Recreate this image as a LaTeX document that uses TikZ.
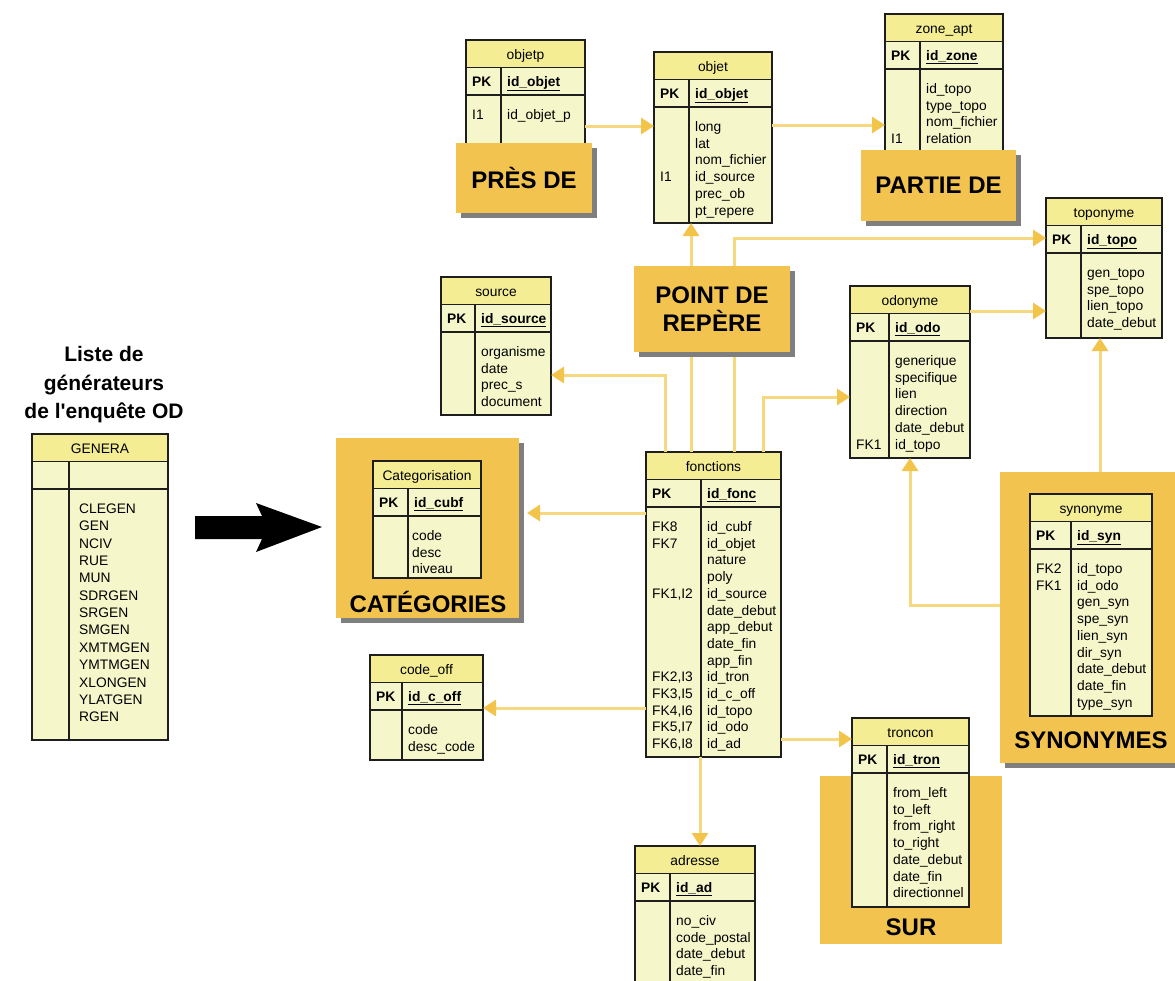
\documentclass[tikz,border=0pt]{standalone}
\usepackage{fontspec}
\setmainfont{Liberation Sans}
\usetikzlibrary{arrows.meta,shadows}

\definecolor{hdr}{HTML}{F4ED94}
\definecolor{bodyc}{HTML}{F5F7CA}
\definecolor{grpfill}{HTML}{F2C44F}
\definecolor{shade}{HTML}{7F7F7F}
\definecolor{linkc}{HTML}{F5D880}
\definecolor{linktip}{HTML}{F2C44A}
\definecolor{ink}{HTML}{1E1E1E}

% geometry helpers for the entity tables
\def\parsex#1,#2,#3\relax{\def\xa{#1}\def\xb{#2}\def\xd{#3}}
\def\parsey#1,#2\relax{\def\ya{#1}\def\yb{#2}}
\newcommand\rowstep{16.7}
\newcommand\fieldpad{6}

% \ertable{name}{left,right,divider}{top,bottom}{title}{key}{left column}{fields}
\newcommand\ertable[7]{%
  \parsex#2\relax\parsey#3\relax
  \pgfmathsetmacro\tw{\xb-\xa}\pgfmathsetmacro\th{\yb-\ya}%
  \node[tblbox, minimum width=\tw pt, minimum height=\th pt, anchor=north west] (#1) at (\xa,\ya) {};
  \fill[hdr] (\xa,\ya) rectangle (\xb,{\ya+27.5});
  \draw[tblline] (\xa,{\ya+27.5}) -- (\xb,{\ya+27.5})
                 (\xa,{\ya+55}) -- (\xb,{\ya+55})
                 (\xd,{\ya+27.5}) -- (\xd,\yb);
  \draw[tblline] (\xa,\ya) rectangle (\xb,\yb);
  \node[celltext, anchor=base] at ({(\xa+\xb)/2},{\ya+19}) {#4};
  \if\relax\detokenize{#5}\relax\else
    \node[celltext, anchor=base west, font=\fontsize{13.8}{16}\selectfont\bfseries] at ({\xa+6},{\ya+46}) {PK};
    \node[celltext, anchor=base west, font=\fontsize{13.8}{16}\selectfont\bfseries] at ({\xd+6},{\ya+46}) {\underline{#5}};
  \fi
  \foreach \t [count=\i from 0] in {#6}
    \node[celltext, anchor=base west] at ({\xa+6},{\ya+79.5+\i*\rowstep}) {\t};
  \foreach \t [count=\i from 0] in {#7}
    \node[celltext, anchor=base west] at ({\xd+\fieldpad},{\ya+79.5+\i*\rowstep}) {\t};
}

\begin{document}
\begin{tikzpicture}[x=1pt,y=-1pt,
  tblbox/.style={fill=bodyc, draw=none, inner sep=0pt, outer sep=0pt},
  tblline/.style={draw=ink, line width=1.3pt},
  celltext/.style={inner sep=0pt, text=black, font=\fontsize{13.8}{16}\selectfont},
  grp/.style={fill=grpfill, draw=none, inner sep=0pt, outer sep=0pt,
    drop shadow={shadow xshift=5pt, shadow yshift=-5pt, fill=shade, opacity=1}},
  grpplain/.style={fill=grpfill, draw=none, inner sep=0pt, outer sep=0pt},
  grptext/.style={inner sep=0pt, text=black, font=\fontsize{24}{28}\selectfont\bfseries},
  link/.style={draw=linkc, line width=3pt, -{Triangle[length=13pt,width=16pt,color=linktip]}}]

\useasboundingbox (0,0) rectangle (1175,980);
\clip (0,0) rectangle (1175,980);

% title of the survey table (straight apostrophe taken as a glyph)
\node[align=center, inner sep=0pt, font=\fontsize{21}{28.5}\selectfont\bfseries] (heading) at (104,385)
  {Liste de\\générateurs\\de l\XeTeXglyph\XeTeXcharglyph"0027 enquête OD};

% group boxes lying behind their tables
\node[grp, minimum width=183pt, minimum height=180pt, anchor=north west] (catbox) at (336,438) {};
\node[grptext] (cattext) at (428,602) {CATÉGORIES};
\node[grpplain, minimum width=182pt, minimum height=168pt, anchor=north west] (surbox) at (820,776) {};
\node[grptext] (surtext) at (911,927) {SUR};
\node[grp, minimum width=185pt, minimum height=291pt, anchor=north west] (synbox) at (1000,472) {};
\node[grptext] (syntext) at (1091,740) {SYNONYMES};

% entity tables
\ertable{objetp}{466,585,501}{40,165}{objetp}{id\_objet}{I1}{id\_objet\_p}
\ertable{objet}{654,772,689}{52,223}{objet}{id\_objet}{{},{},{},I1,{},{}}{long,lat,nom\_fichier,id\_source,prec\_ob,pt\_repere}
\ertable{zoneapt}{885,1003,920}{14,165}{zone\_apt}{id\_zone}{{},{},{},I1}{id\_topo,type\_topo,nom\_fichier,relation}
\ertable{toponyme}{1046,1162,1081}{198,338}{toponyme}{id\_topo}{}{gen\_topo,spe\_topo,lien\_topo,date\_debut}
\ertable{odonyme}{850,970,889}{286,458}{odonyme}{id\_odo}{{},{},{},{},{},FK1}{generique,specifique,lien,direction,date\_debut,id\_topo}
\ertable{source}{441,551,475}{277,415}{source}{id\_source}{}{organisme,date,prec\_s,document}
\ertable{fonctions}{646,781,701}{452,757}{fonctions}{id\_fonc}{FK8,FK7,{},{},{FK1,I2},{},{},{},{},{FK2,I3},{FK3,I5},{FK4,I6},{FK5,I7},{FK6,I8}}{id\_cubf,id\_objet,nature,poly,id\_source,date\_debut,app\_debut,date\_fin,app\_fin,id\_tron,id\_c\_off,id\_topo,id\_odo,id\_ad}
\renewcommand\fieldpad{4}
\ertable{categ}{373,481,408}{461,578}{Categorisation}{id\_cubf}{}{code,desc,niveau}
\renewcommand\fieldpad{6}
\ertable{codeoff}{370,483,402}{655,760}{code\_off}{id\_c\_off}{}{code,desc\_code}
\ertable{troncon}{852,969,887}{718,907}{troncon}{id\_tron}{}{from\_left,to\_left,from\_right,to\_right,date\_debut,date\_fin,directionnel}
\ertable{adresse}{635,755,670}{846,1000}{adresse}{id\_ad}{}{no\_civ,code\_postal,date\_debut,date\_fin}
\ertable{synonyme}{1030,1152,1071}{494,716}{synonyme}{id\_syn}{FK2,FK1}{id\_topo,id\_odo,gen\_syn,spe\_syn,lien\_syn,dir\_syn,date\_debut,date\_fin,type\_syn}
\renewcommand\rowstep{17.35}
\renewcommand\fieldpad{10}
\ertable{genera}{32,168,69}{434,740}{GENERA}{}{}{CLEGEN,GEN,NCIV,RUE,MUN,SDRGEN,SRGEN,SMGEN,XMTMGEN,YMTMGEN,XLONGEN,YLATGEN,RGEN}

% relationships
\draw[link] (objetp.east |- 0,126) -- (objet.west |- 0,126);
\draw[link] (objet.east |- 0,125) -- (zoneapt.west |- 0,125);
\draw[link] (fonctions.north -| 691,0) -- (objet.south -| 691,0);
\draw[link] (fonctions.north -| 665,0) |- (source.east |- 0,375);
\draw[link] (fonctions.north -| 734,0) |- (toponyme.west |- 0,238);
\draw[link] (fonctions.north -| 763,0) |- (odonyme.west |- 0,397);
\draw[link] (fonctions.west |- 0,513) -- ([xshift=8pt]catbox.east |- 0,513);
\draw[link] (fonctions.west |- 0,708) -- (codeoff.east |- 0,708);
\draw[link] (fonctions.east |- 0,739) -- (troncon.west |- 0,739);
\draw[link] (fonctions.south -| 700,0) -- (adresse.north -| 700,0);
\draw[link] (odonyme.east |- 0,311) -- (toponyme.west |- 0,311);
\draw[link] (synbox.north -| 1100,0) -- (toponyme.south -| 1100,0);
\draw[link] (synbox.west |- 0,605) -| (odonyme.south -| 910,0);

% labels laid over the tables and links
\node[grp, grptext, minimum width=136pt, minimum height=70pt, anchor=north west] (presde) at (456,143) {PRÈS DE};
\node[grp, grptext, minimum width=155pt, minimum height=71pt, anchor=north west] (partiede) at (861,150) {PARTIE DE};
\node[grp, grptext, align=center, minimum width=156pt, minimum height=86pt, anchor=north west,
  font=\fontsize{24}{28}\selectfont\bfseries] (repere) at (634,266) {POINT DE\\REPÈRE};

% transfer arrow from the survey list
\fill[black] (195,516) -- (262,516) -- (256,503) -- (322,527) -- (256,552) -- (262,539) -- (195,539) -- cycle;

\end{tikzpicture}
\end{document}
